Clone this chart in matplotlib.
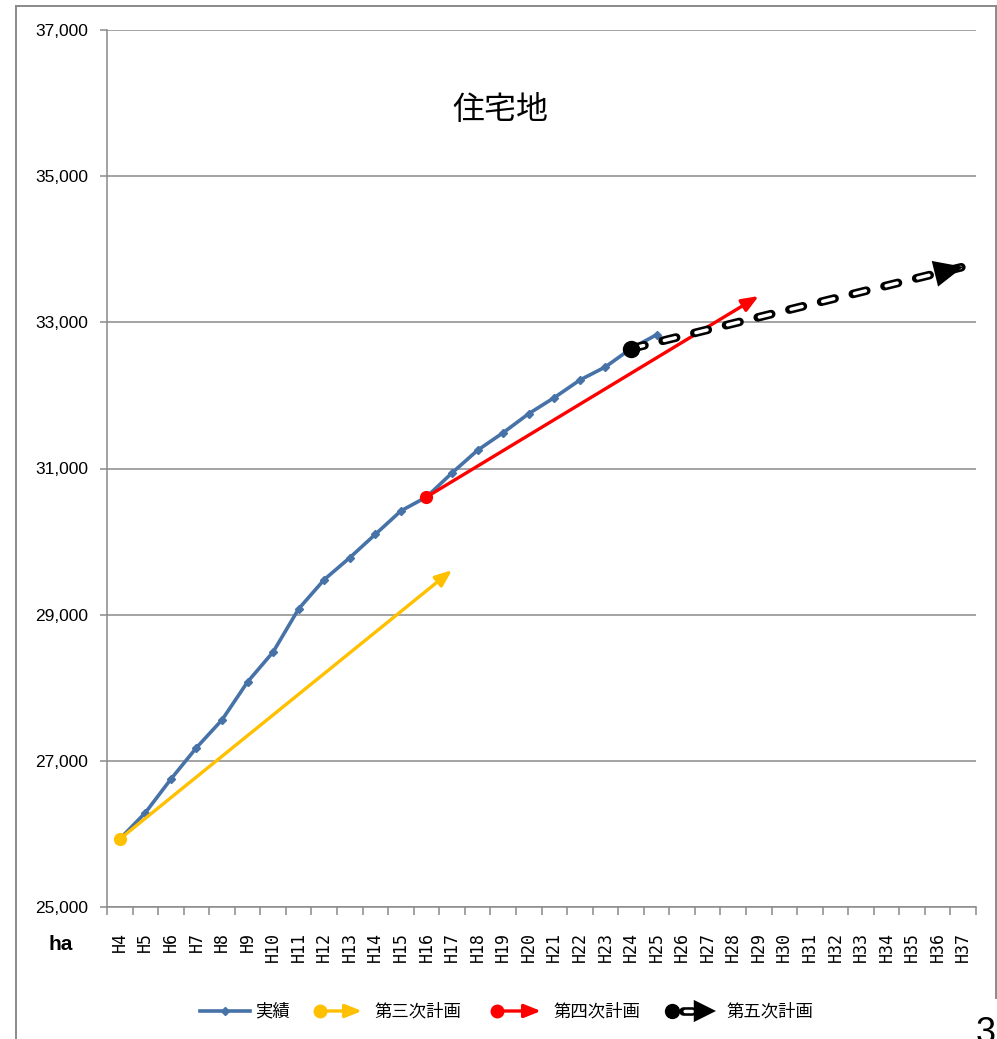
import matplotlib
matplotlib.use('Agg')
import matplotlib.pyplot as plt
from matplotlib.ticker import FuncFormatter
import numpy as np

plt.rcParams['font.family'] = ['Noto Sans CJK JP', 'DejaVu Sans']
plt.rcParams['lines.scale_dashes'] = False  # dash lengths in points

# fiscal years (Heisei)
years = ['H4', 'H5', 'H6', 'H7', 'H8', 'H9', 'H10', 'H11', 'H12', 'H13',
         'H14', 'H15', 'H16', 'H17', 'H18', 'H19', 'H20', 'H21', 'H22',
         'H23', 'H24', 'H25', 'H26', 'H27', 'H28', 'H29', 'H30', 'H31',
         'H32', 'H33', 'H34', 'H35', 'H36', 'H37']

# residential land area (ha), actual values H4..H25
actual_values = [25930, 26290, 26750, 27180, 27560, 28080, 28490, 29080,
                 29480, 29780, 30100, 30420, 30610, 30940, 31250, 31490,
                 31750, 31970, 32210, 32390, 32640, 32830]

# plan trends: start year/value -> target year/value
plan3_years = ['H4', 'H17']
plan3_values = [25930, 29610]
plan4_years = ['H16', 'H29']
plan4_values = [30610, 33360]
plan5_years = ['H24', 'H37']
plan5_values = [32640, 33760]

BLUE = '#4672A8'
YELLOW = '#FFC000'
RED = '#FF0000'
GRAY = '#8A8A8A'

W, H = 997, 1039
idx = {y: i for i, y in enumerate(years)}


def plan_arrow(ax, yrs, vals, color):
    x0, x1 = idx[yrs[0]], idx[yrs[1]]
    ax.annotate('', xy=(x1, vals[1]), xytext=(x0, vals[0]),
                arrowprops=dict(arrowstyle='-|>,head_length=1.0,head_width=0.4',
                                mutation_scale=10, color=color, lw=2.4,
                                shrinkA=0, shrinkB=0),
                zorder=4)
    ax.plot(x0, vals[0], 'o', color=color, ms=8.5, zorder=5)


def outlined_dash(ax, xs, ys, zorder=5):
    # black dash with a white core, like a double-line dash
    ax.plot(xs, ys, color='black', lw=6.2, linestyle=(0, (10.0, 13.5)),
            dash_capstyle='round', solid_capstyle='round', zorder=zorder)
    ax.plot(xs, ys, color='white', lw=2.5, linestyle=(22.3, (8.2, 15.3)),
            dash_capstyle='round', solid_capstyle='round', zorder=zorder + 1)


fig = plt.figure(figsize=(W / 100, H / 100), dpi=100)
ax = fig.add_axes([107 / W, 1 - 907 / H, 869 / W, 877 / H])

# actual series
ax.plot(range(len(actual_values)), actual_values, color=BLUE, lw=2.6,
        marker='D', ms=4.5, zorder=3)

# 3rd and 4th plan arrows
plan_arrow(ax, plan3_years, plan3_values, YELLOW)
plan_arrow(ax, plan4_years, plan4_values, RED)

# 5th plan: outlined dashed arrow
x5 = [idx[plan5_years[0]], idx[plan5_years[1]]]
outlined_dash(ax, x5, plan5_values)
ax.annotate('', xy=(x5[1], plan5_values[1]), xytext=(x5[0], plan5_values[0]),
            arrowprops=dict(arrowstyle='-|>,head_length=2.1,head_width=0.95',
                            mutation_scale=10, color='black', lw=0,
                            shrinkA=0, shrinkB=0),
            zorder=8)
ax.plot(x5[0], plan5_values[0], 'o', color='black', ms=11.5, zorder=8)

# axes styling
ax.set_xlim(-0.5, len(years) - 0.5)
ax.set_ylim(25000, 37000)
ax.set_yticks(np.arange(25000, 37001, 2000))
ax.yaxis.set_major_formatter(FuncFormatter(lambda v, p: f'{int(v):,}'))
ax.set_xticks(range(len(years)))
ax.set_xticklabels(years, rotation=90, va='top', ha='center',
                   fontfamily='DejaVu Sans Mono', fontsize=12)
ax.set_xticks(np.arange(-0.5, len(years)), minor=True)
ax.tick_params(axis='x', which='major', length=0, pad=18)
ax.tick_params(axis='x', which='minor', length=6, color=GRAY, width=1.1)
ax.tick_params(axis='y', length=5, color=GRAY, width=1.1, pad=8.5)
for lab in ax.get_yticklabels():
    lab.set_fontfamily('Liberation Sans')
    lab.set_fontsize(12.5)
ax.grid(axis='y', color=GRAY, lw=1.1)
ax.set_axisbelow(True)
for s in ['top', 'right']:
    ax.spines[s].set_visible(False)
for s in ['left', 'bottom']:
    ax.spines[s].set_color(GRAY)
    ax.spines[s].set_linewidth(1.1)

fig.text(500 / W, 1 - 110 / H, '住宅地', fontsize=23, ha='center', va='center')
fig.text(61 / W, 1 - 945 / H, 'ha', fontsize=15, fontweight='bold',
         fontfamily='Liberation Sans', ha='center', va='center')

# overlay in pixel coords for frame, legend and page number
lax = fig.add_axes([0, 0, 1, 1])
lax.set_xlim(0, W)
lax.set_ylim(H, 0)
lax.axis('off')
lax.patch.set_alpha(0)

lax.plot([16, 16], [6, H], color=GRAY, lw=1.4)
lax.plot([16, 996], [6, 6], color=GRAY, lw=1.4)
lax.plot([996, 996], [6, 998], color=GRAY, lw=1.4)

ly = 1011
lax.plot([200, 250], [ly, ly], color=BLUE, lw=2.6)
lax.plot(225, ly, marker='D', ms=4.5, color=BLUE)
lax.text(255, ly, '実績', va='center', fontsize=12.5)

for x0, x1, color, label in [(320, 362, YELLOW, '第三次計画'),
                             (497, 541, RED, '第四次計画')]:
    lax.annotate('', xy=(x1, ly), xytext=(x0, ly),
                 arrowprops=dict(arrowstyle='-|>,head_length=1.0,head_width=0.4',
                                 mutation_scale=10, color=color, lw=2.4,
                                 shrinkA=0, shrinkB=0))
    lax.plot(x0, ly, 'o', color=color, ms=9)
    lax.text(x1 + 12, ly, label, va='center', fontsize=12.5)

outlined_dash(lax, [683, 692], [ly, ly])
lax.annotate('', xy=(716, ly), xytext=(698, ly),
             arrowprops=dict(arrowstyle='-|>,head_length=1.6,head_width=0.8',
                             mutation_scale=10, color='black', lw=0,
                             shrinkA=0, shrinkB=0), zorder=8)
lax.plot(672, ly, 'o', color='black', ms=10, zorder=8)
lax.text(726, ly, '第五次計画', va='center', fontsize=12.5)

lax.text(976, 1016, '3', fontsize=26, fontfamily='Liberation Sans',
         ha='left', va='top')

fig.savefig('out.png', dpi=100)
